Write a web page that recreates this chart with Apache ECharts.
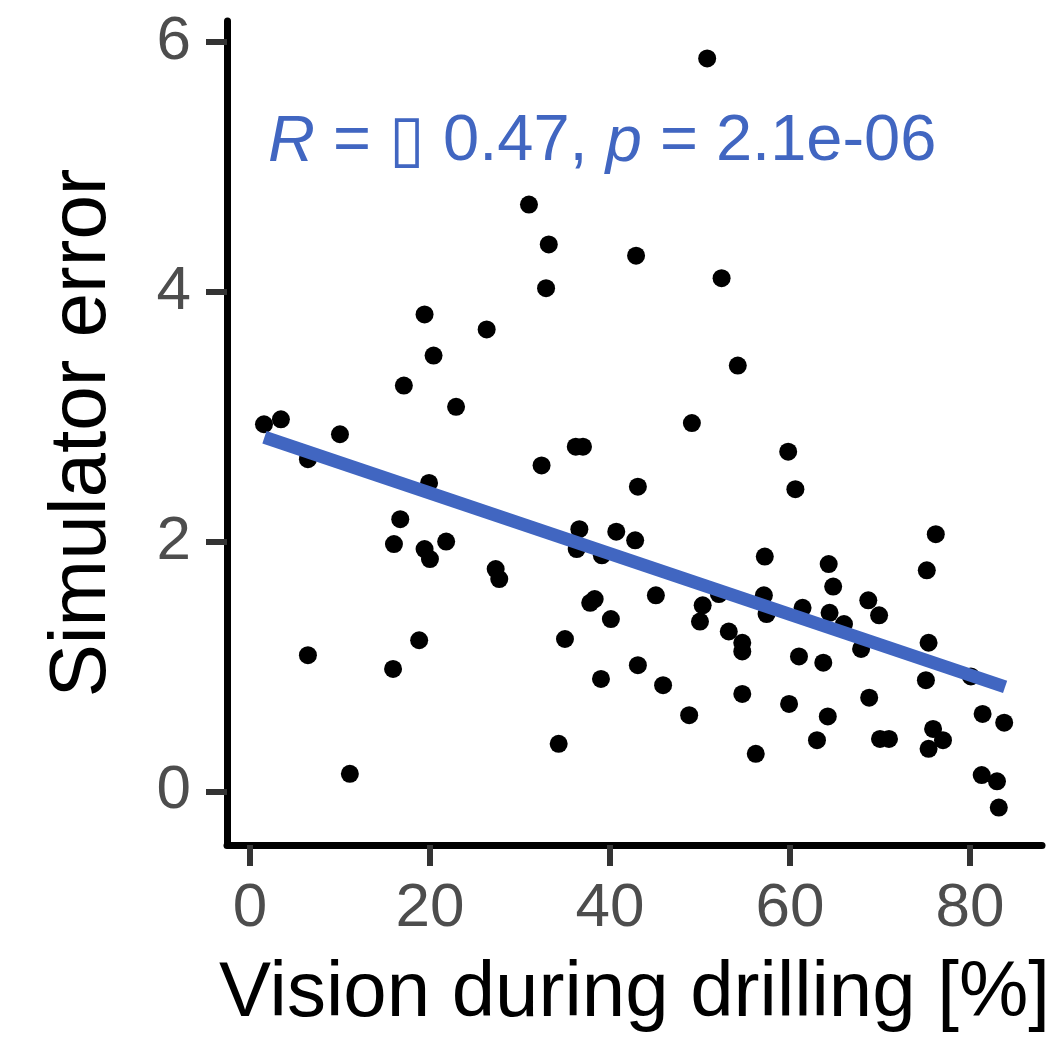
<!DOCTYPE html>
<html>
<head>
<meta charset="utf-8">
<script src="https://cdn.jsdelivr.net/npm/echarts@6/dist/echarts.min.js"></script>
<style>
html,body{margin:0;padding:0;background:#fff;}
#chart{width:1056px;height:1045px;}
</style>
</head>
<body>
<div id="chart"></div>
<script>
// Vision during drilling [%]
const visionX = [1.56, 3.44, 6.44, 6.44, 10.0, 11.1, 15.9, 16.0, 16.7, 17.1,
  18.8, 19.4, 19.4, 19.9, 20.0, 20.4, 21.8, 22.9, 26.3, 27.3,
  27.7, 31.0, 32.4, 32.9, 33.2, 34.3, 35.0, 36.2, 36.6, 36.3,
  37.0, 37.8, 38.3, 39.0, 39.1, 40.1, 40.7, 42.8, 42.9, 43.1,
  43.1, 45.1, 45.9, 48.8, 49.1, 50.0, 50.3, 50.8, 52.1, 52.4,
  53.2, 54.2, 54.7, 54.7, 54.7, 56.2, 57.2, 57.1, 57.4, 59.8,
  60.6, 59.9, 61.0, 61.4, 63.0, 63.7, 64.2, 64.3, 64.4, 64.8,
  66.0, 67.9, 68.7, 68.8, 69.9, 70.0, 71.0, 75.1, 75.2, 75.4,
  75.4, 75.9, 76.2, 77.0, 80.1, 81.3, 81.4, 83.0, 83.2, 83.8];
// Simulator error
const errorY = [2.94, 2.98, 2.66, 1.09, 2.86, 0.14, 0.98, 1.98, 2.18, 3.25,
  1.21, 3.82, 1.94, 2.47, 1.86, 3.49, 2.00, 3.08, 3.70, 1.78,
  1.70, 4.70, 2.61, 4.03, 4.38, 0.38, 1.22, 2.76, 2.10, 1.94,
  2.76, 1.51, 1.54, 0.90, 1.89, 1.38, 2.08, 2.01, 4.29, 2.44,
  1.01, 1.57, 0.85, 0.61, 2.95, 1.36, 1.49, 5.87, 1.58, 4.11,
  1.28, 3.41, 1.19, 1.12, 0.78, 0.30, 1.88, 1.57, 1.42, 2.72,
  2.42, 0.70, 1.08, 1.47, 0.41, 1.03, 0.60, 1.82, 1.43, 1.64,
  1.34, 1.14, 1.53, 0.75, 1.41, 0.42, 0.42, 0.89, 1.77, 1.19,
  0.34, 0.50, 2.06, 0.41, 0.92, 0.13, 0.62, 0.08, -0.13, 0.55];
// fitted regression line end points
const fitX = [1.61, 83.9];
const fitY = [2.836, 0.836];
const xTicks = [0, 20, 40, 60, 80];
const yTicks = [0, 2, 4, 6];
const annotation = '{i|R} = \u25AF 0.47, {i|p} = 2.1e-06';

const FONT = 'Liberation Sans, Arial, Helvetica, sans-serif';
const BLUE = '#4166C1';

const chart = echarts.init(document.getElementById('chart'), null, {renderer: 'canvas'});
const points = visionX.map((x, i) => [x, errorY[i]]);
const fit = fitX.map((x, i) => [x, fitY[i]]);

chart.setOption({
  animation: false,
  backgroundColor: '#fff',
  title: {
    text: annotation,
    left: 268, top: 110, padding: 0,
    textStyle: {
      fontFamily: FONT, fontSize: 65, fontWeight: 'normal', color: BLUE,
      rich: { i: { fontFamily: FONT, fontSize: 65, fontStyle: 'italic', color: BLUE } }
    }
  },
  grid: { left: 227, right: 14, top: 21, bottom: 200, containLabel: false },
  xAxis: {
    type: 'value', min: -2.55, max: 88.0,
    name: 'Vision during drilling [%]', nameLocation: 'middle', nameGap: 110,
    nameTextStyle: { fontFamily: FONT, fontSize: 78, color: '#000' },
    axisLine: { onZero: false, lineStyle: { color: '#000', width: 7 } },
    axisTick: { show: true, customValues: xTicks, length: 21, lineStyle: { color: '#333', width: 6 } },
    axisLabel: { customValues: xTicks, margin: 33, fontFamily: FONT, fontSize: 62, color: '#4D4D4D' },
    splitLine: { show: false }
  },
  yAxis: {
    type: 'value', min: -0.43, max: 6.17,
    name: 'Simulator error', nameLocation: 'middle', nameGap: 104,
    nameTextStyle: { fontFamily: FONT, fontSize: 80, color: '#000' },
    axisLine: { onZero: false, lineStyle: { color: '#000', width: 7 } },
    axisTick: { show: true, customValues: yTicks, length: 21, lineStyle: { color: '#333', width: 6 } },
    axisLabel: { customValues: yTicks, margin: 36, fontFamily: FONT, fontSize: 62, color: '#4D4D4D' },
    splitLine: { show: false }
  },
  series: [
    {
      type: 'scatter', data: points, symbolSize: 18,
      itemStyle: { color: '#000', opacity: 1 }, z: 2, silent: true
    },
    {
      type: 'line', data: fit, symbol: 'none', z: 3, silent: true,
      lineStyle: { color: BLUE, width: 13, cap: 'butt' }
    }
  ]
});
</script>
</body>
</html>
